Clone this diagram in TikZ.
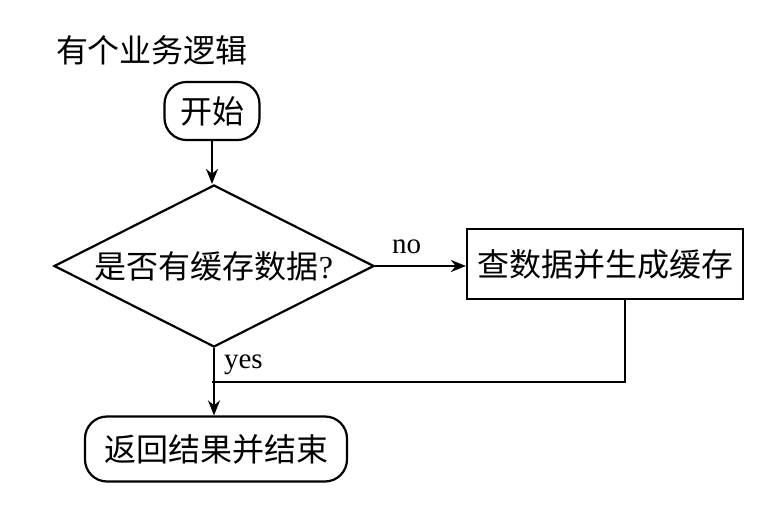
\documentclass[tikz,border=0pt]{standalone}
\usepackage{fontspec}
\newfontfamily\cjk{Noto Sans CJK SC}
\newfontfamily\lblfont{Liberation Serif}
\usetikzlibrary{shapes.geometric,arrows.meta}
\begin{document}
\begin{tikzpicture}[x=1pt,y=-1pt, line width=2.2pt,
  cjkfont/.style={font=\cjk\fontsize{32}{38}\selectfont},
  term/.style={draw, rounded corners=22pt, cjkfont, inner sep=0pt},
  proc/.style={draw, rectangle, cjkfont, inner sep=0pt},
  dec/.style={draw, diamond, shape aspect=2, cjkfont, inner sep=0pt},
  arr/.style={-{Stealth[length=15pt,width=12pt]}},
  lbl/.style={font=\lblfont\fontsize{29}{34}\selectfont, inner sep=0pt, anchor=base west}]
\useasboundingbox (0,0) rectangle (766,508);
\fill[white] (0,0) rectangle (766,508);
\node[cjkfont] (title) at (152,50) {有个业务逻辑};
\node[term, minimum width=95pt, minimum height=58pt] (start) at (212,111) {开始};
\node[dec, minimum width=320pt, minimum height=162pt] (q) at (214,266) {是否有缓存数据{\lblfont ?}};
\node[proc, minimum width=276pt, minimum height=70pt] (p) at (605,264) {查数据并生成缓存};
\node[term, minimum width=262pt, minimum height=65pt] (end) at (216,449) {返回结果并结束};
\coordinate (j) at (212,382);
\node[lbl] (nolbl) at (391,253) {no};
\node[lbl] (yeslbl) at (223,368) {yes};
\draw[arr] (start) -- (start |- q.north);
\draw[arr] (q.east) -- (p.west |- q.east);
\draw ([xshift=20pt]p.south) |- (j);
\draw[arr] (q.south) -- (q.south |- end.north);
\end{tikzpicture}
\end{document}
